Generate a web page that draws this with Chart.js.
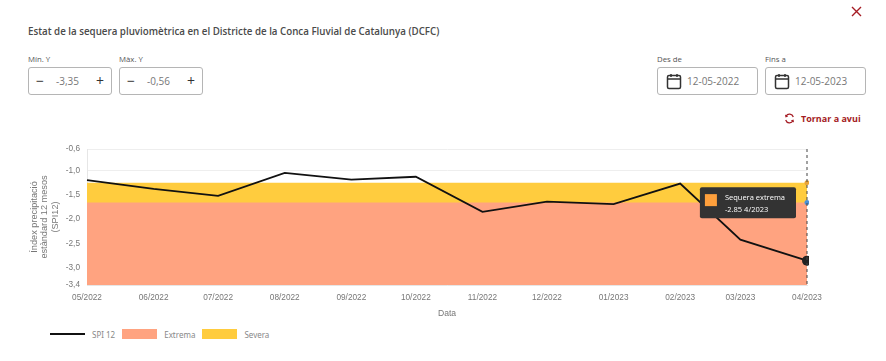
<!DOCTYPE html>
<html lang="ca">
<head>
<meta charset="utf-8">
<title>Estat de la sequera</title>
<script src="https://cdn.jsdelivr.net/npm/chart.js@4"></script>
<style>
  html, body { margin: 0; padding: 0; background: #fff; }
  body { width: 886px; height: 361px; position: relative; overflow: hidden; font-family: "Open Sans", "Noto Sans", sans-serif; color: #444; }
  .abs { position: absolute; white-space: nowrap; }
  .title { left: 28px; top: 24px; font-size: 9.75px; font-weight: 600; color: #4a4a4a; line-height: 15px; }
  .lab { top: 53px; font-size: 7.8px; color: #555; line-height: 12px; }
  .box { top: 67px; height: 28px; box-sizing: border-box; border: 1px solid #b5b5b5; border-radius: 3px; font-size: 10px; color: #777; line-height: 26px; }
  .box .m, .box .p { position: absolute; top: 0; font-size: 14px; color: #333; }
  .box .m { left: 7px; } .box .p { right: 7px; }
  .box .v { position: absolute; left: 24px; width: 29px; text-align: center; }
  .box.date .d { position: absolute; left: 29px; }
  .box.date svg { position: absolute; left: 8px; top: 5px; }
  .reset { left: 801px; top: 112px; font-size: 9px; font-weight: 700; color: #a51c24; line-height: 13px; }
  #wrap { position: absolute; left: 0; top: 135px; width: 886px; height: 190px; }
  #legend { position: absolute; left: 50px; top: 328px; display: flex; align-items: center; height: 12px; font-family: "Noto Sans", sans-serif; font-size: 8px; color: #888; }
  #legend i { display: block; width: 35px; margin-right: 7px; }
  #legend span { display: block; }
</style>
</head>
<body>

<svg class="abs" style="left:851px;top:6px" width="11" height="11" viewBox="0 0 11 11"><path d="M1 1 L10 10 M10 1 L1 10" stroke="#a51c24" stroke-width="1.4" fill="none"/></svg>
<div class="abs title">Estat de la sequera pluviomètrica en el Districte de la Conca Fluvial de Catalunya (DCFC)</div>

<div class="abs lab" style="left:28px">Mín. Y</div>
<div class="abs box" style="left:28px;width:84px"><span class="m">−</span><span class="v">-3,35</span><span class="p">+</span></div>
<div class="abs lab" style="left:119px">Màx. Y</div>
<div class="abs box" style="left:119px;width:84px"><span class="m">−</span><span class="v">-0,56</span><span class="p">+</span></div>

<div class="abs lab" style="left:657px">Des de</div>
<div class="abs box date" style="left:657px;width:101px"><svg width="16" height="17" viewBox="0 0 16 17"><rect x="1.5" y="2.5" width="13" height="13" rx="1.5" fill="none" stroke="#333" stroke-width="1.5"/><path d="M1.5 6 H14.5 M5 1 V4 M11 1 V4" stroke="#333" stroke-width="1.5"/></svg><span class="d">12-05-2022</span></div>
<div class="abs lab" style="left:765px">Fins a</div>
<div class="abs box date" style="left:765px;width:101px"><svg width="16" height="17" viewBox="0 0 16 17"><rect x="1.5" y="2.5" width="13" height="13" rx="1.5" fill="none" stroke="#333" stroke-width="1.5"/><path d="M1.5 6 H14.5 M5 1 V4 M11 1 V4" stroke="#333" stroke-width="1.5"/></svg><span class="d">12-05-2023</span></div>

<svg class="abs" style="left:784px;top:113px" width="11" height="11" viewBox="0 0 11 11"><path d="M9.3 4 A4 4 0 0 0 2 3.2 M1.7 7 A4 4 0 0 0 9 7.8" stroke="#a51c24" stroke-width="1.3" fill="none"/><path d="M1 1.5 L1.5 4.5 L4.2 3.6 Z M10 9.5 L9.5 6.5 L6.8 7.4 Z" fill="#a51c24"/></svg>
<div class="abs reset">Tornar a avui</div>

<div id="wrap"><canvas id="c"></canvas></div>
<div id="legend"></div>

<script>
// ── DATA ──────────────────────────────────
const months   = ['05/2022','06/2022','07/2022','08/2022','09/2022','10/2022','11/2022','12/2022','01/2023','02/2023','03/2023','04/2023'];
// days since 1 May 2022, the axis is a real calendar (no date adapter available)
const days     = [0,31,61,92,123,153,184,214,245,276,304,335];
const spi12    = [-1.20,-1.38,-1.52,-1.05,-1.19,-1.13,-1.85,-1.64,-1.69,-1.27,-2.42,-2.85];
const extrema  = [-1.66,-1.66,-1.66,-1.66,-1.66,-1.66,-1.66,-1.66,-1.66,-1.66,-1.66,-1.66];
const severa   = [-1.25,-1.25,-1.25,-1.25,-1.25,-1.25,-1.25,-1.25,-1.25,-1.25,-1.25,-1.25];
const yMin     = -3.35;
const yMax     = -0.56;
const yTicks   = [-0.56,-1,-1.5,-2,-2.5,-3,-3.35];
const tipTitle = 'Sequera extrema';
const tipDate  = '4/2023';

// ── COLORS ────────────────────────────────
const C_LINE = '#111111', C_EXT = '#ffa380', C_SEV = '#ffcc3e', C_TICK = '#777777';
const FONT_AXIS = '"Liberation Sans", Arial, sans-serif';
const lastIdx = months.length - 1;
const endRadius = r => ctx => ctx.dataIndex === lastIdx ? r : 0;
const xy = arr => arr.map((y, i) => ({ x: days[i], y }));

// ── PLUGIN: dashed cursor + tooltip swatch ─
const cursorLine = {
  id: 'cursorLine',
  afterDatasetsDraw(chart) {
    const active = chart.tooltip.getActiveElements();
    if (!active.length) return;
    const { ctx, chartArea } = chart;
    const x = active[0].element.x;
    ctx.save();
    ctx.strokeStyle = '#444';
    ctx.lineWidth = 1;
    ctx.setLineDash([3, 3]);
    ctx.beginPath();
    ctx.moveTo(x, chartArea.top);
    ctx.lineTo(x, chartArea.bottom);
    ctx.stroke();
    ctx.restore();
  },
  afterTooltipDraw(chart, { tooltip }) {
    const { ctx } = chart;
    ctx.save();
    ctx.fillStyle = '#ffa03c';
    ctx.fillRect(tooltip.x + 5, tooltip.y + 7, 12, 12);
    ctx.restore();
  }
};

Chart.Tooltip.positioners.fixedLeft = function (items) {
  if (!items.length) return false;
  const el = items[0].element;
  return { x: el.x - 9, y: el.y - 58 };
};

// ── CHART ─────────────────────────────────
const chart = new Chart(document.getElementById('c'), {
  type: 'line',
  data: {
    datasets: [
      { label: 'SPI 12', data: xy(spi12), borderColor: C_LINE, borderWidth: 1.8, tension: 0, fill: false, order: 0, clip: 2,
        pointRadius: endRadius(5), pointBackgroundColor: '#222', pointBorderWidth: 0 },
      { label: 'Extrema', data: xy(extrema), borderWidth: 0, backgroundColor: C_EXT, fill: 'start', order: 1, clip: 2,
        pointRadius: endRadius(2.5), pointBackgroundColor: '#4a90d9', pointBorderWidth: 0 },
      { label: 'Severa', data: xy(severa), borderWidth: 0, backgroundColor: C_SEV, fill: 'start', order: 2, clip: 2,
        pointRadius: endRadius(2.5), pointBackgroundColor: '#e8a33a', pointBorderWidth: 0 }
    ]
  },
  options: {
    responsive: true,
    maintainAspectRatio: false,
    animation: false,
    events: [],
    layout: { padding: { left: 29, right: 79, top: 14, bottom: 6 } },
    scales: {
      x: {
        type: 'linear',
        min: days[0],
        max: days[lastIdx],
        afterBuildTicks(scale) { scale.ticks = days.map(value => ({ value })); },
        grid: { display: false },
        border: { color: '#e6e6e6' },
        ticks: {
          color: C_TICK,
          font: { size: 8.25, family: FONT_AXIS },
          maxRotation: 0,
          autoSkip: false,
          padding: 0,
          callback: v => months[days.indexOf(v)]
        },
        title: { display: true, text: 'Data', color: C_TICK, font: { size: 8.6, family: FONT_AXIS }, padding: { top: 4, bottom: 0 } },
        afterFit(scale) { scale.height = 34; }
      },
      y: {
        min: yMin,
        max: yMax,
        afterBuildTicks(scale) { scale.ticks = yTicks.map(value => ({ value })); },
        grid: { color: '#eeeeee', drawTicks: false },
        border: { color: '#e6e6e6' },
        ticks: {
          color: C_TICK,
          font: { size: 8.25, family: FONT_AXIS },
          padding: 7,
          callback: v => v.toFixed(1).replace('.', ',')
        },
        title: {
          display: true,
          text: ['Índex precipitació', 'estàndard 12 mesos', '(SPI12)'],
          color: C_TICK,
          font: { size: 9.2, family: FONT_AXIS, lineHeight: 1.15 },
          padding: 0
        },
        afterFit(scale) { scale.width = 58; }
      }
    },
    plugins: {
      legend: { display: false },
      tooltip: {
        enabled: true,
        position: 'fixedLeft',
        xAlign: 'right',
        yAlign: 'center',
        caretSize: 0,
        backgroundColor: '#333333',
        cornerRadius: 2,
        padding: { left: 25, right: 11, top: 5, bottom: 3 },
        displayColors: false,
        bodyColor: '#fff',
        bodyFont: { size: 7.5, family: '"Open Sans", sans-serif', lineHeight: 1.4 },
        callbacks: {
          title: () => [],
          label: item => [tipTitle, item.formattedValue.replace(',', '.') + ' ' + tipDate]
        }
      }
    }
  },
  plugins: [cursorLine]
});

// last point stays selected, like the hover in the app
chart.tooltip.setActiveElements([{ datasetIndex: 0, index: lastIdx }], { x: 0, y: 0 });
chart.update();

// ── LEGEND ────────────────────────────────
const legend = document.getElementById('legend');
chart.data.datasets.forEach((ds, i) => {
  const key = document.createElement('i');
  if (i === 0) { key.style.height = '2px'; key.style.background = ds.borderColor; }
  else         { key.style.height = '10px'; key.style.background = ds.backgroundColor; }
  const txt = document.createElement('span');
  txt.textContent = ds.label;
  txt.style.marginRight = '7px';
  legend.append(key, txt);
});
</script>
</body>
</html>
